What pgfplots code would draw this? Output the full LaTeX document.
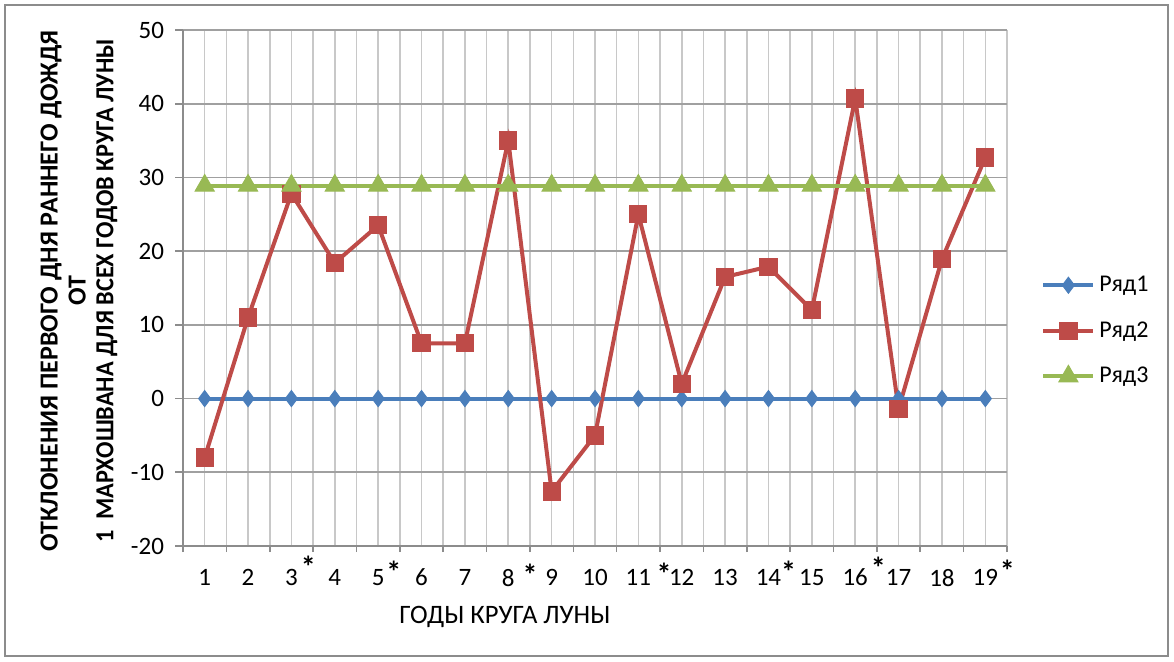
\documentclass[border=0pt]{standalone}
\usepackage{pgfplots}
\pgfplotsset{compat=1.18}
\usepackage{fontspec}
\setmainfont{Carlito}
\definecolor{sblue}{HTML}{4A7EBB}
\definecolor{sred}{HTML}{BE4B48}
\definecolor{sgreen}{HTML}{98B954}
\definecolor{gmaj}{HTML}{A0A0A0}
\definecolor{gmin}{HTML}{C8C8C8}
\definecolor{frame}{HTML}{8C8C8C}
\newcommand{\st}[2]{\rlap{\hspace{#1pt}\smash{\raisebox{#2pt}{\bfseries\fontsize{15}{15}\selectfont *}}}}
\begin{document}
\begin{tikzpicture}
\path[use as bounding box] (0,0) rectangle (587pt,330.5pt);
\draw[frame, line width=1pt] (2.5pt,2.5pt) rectangle (584pt,328pt);
\begin{axis}[
  at={(91.5pt,57.5pt)}, anchor=south west,
  scale only axis, width=412pt, height=258pt,
  xmin=0.5, xmax=19.5, ymin=-20, ymax=50,
  xtick={1,...,19},
  xticklabels={1,2,3\st{1.5}{4},4,5\st{1}{1.5},6,7,8\st{4}{0.5},9,10,11\st{2.8}{0.5},12,13,14\st{0}{1.5},15,16\st{1.5}{3.5},17,18,19\st{1}{2}},
  minor xtick={0.5,1.5,...,19.5},
  ytick={-20,-10,...,50},
  grid=both,
  major x grid style={gmin, line width=0.8pt},
  minor x grid style={gmin, line width=0.8pt},
  major y grid style={gmaj, line width=0.8pt},
  major x tick style={draw=none},
  minor x tick style={frame, line width=0.8pt},
  major y tick style={frame, line width=0.8pt},
  tick align=outside,
  major tick length=4pt, minor tick length=3pt,
  axis line style={frame, line width=0.8pt},
  axis x line*=bottom, axis y line*=left,
  tick label style={font=\fontsize{12.5}{14}\selectfont, black},
  /pgf/number format/assume math mode=true,
  xticklabel style={yshift=-4pt},
  yticklabel style={xshift=-2pt},
  legend style={at={(1.0,0.417)}, anchor=west, xshift=17pt, draw=none, fill=none,
    font=\fontsize{12}{14}\selectfont, row sep=9.5pt, inner sep=0pt},
  legend cell align=left,
  legend image code/.code={\draw[#1, mark repeat=2, mark phase=2] plot coordinates {(0pt,0pt) (12.5pt,0pt) (25pt,0pt)};},
  clip=false,
]
\addplot[sblue, line width=2pt, mark=diamond*, mark size=4pt, mark options={solid, fill=sblue, line width=0.5pt}]
 coordinates {(1,0)(2,0)(3,0)(4,0)(5,0)(6,0)(7,0)(8,0)(9,0)(10,0)(11,0)(12,0)(13,0)(14,0)(15,0)(16,0)(17,0)(18,0)(19,0)};
\addlegendentry{Ряд1}
\addplot[sred, line width=2pt, mark=square*, mark size=4.3pt, mark options={solid, fill=sred, line width=0.5pt}]
 coordinates {(1,-8)(2,11)(3,27.8)(4,18.4)(5,23.5)(6,7.5)(7,7.5)(8,35)(9,-12.6)(10,-5)(11,25)(12,2)(13,16.5)(14,17.9)(15,12)(16,40.7)(17,-1.4)(18,18.9)(19,32.7)};
\addlegendentry{Ряд2}
\addplot[sgreen, line width=2pt, mark=triangle*, mark size=5.5pt, mark options={solid, fill=sgreen, line width=0.5pt}]
 coordinates {(1,28.9)(2,28.9)(3,28.9)(4,28.9)(5,28.9)(6,28.9)(7,28.9)(8,28.9)(9,28.9)(10,28.9)(11,28.9)(12,28.9)(13,28.9)(14,28.9)(15,28.9)(16,28.9)(17,28.9)(18,28.9)(19,28.9)};
\addlegendentry{Ряд3}
\end{axis}
\node[rotate=90, align=center, font=\bfseries\fontsize{13}{13.9}\selectfont] at (39.5pt,185pt)
 {ОТКЛОНЕНИЯ ПЕРВОГО ДНЯ РАННЕГО ДОЖДЯ\\ОТ\\\scalebox{0.935}[1]{1\ \ МАРХОШВАНА ДЛЯ ВСЕХ ГОДОВ КРУГА ЛУНЫ}};
\node[font=\fontsize{13.3}{15}\selectfont] at (252.5pt,22pt) {ГОДЫ КРУГА ЛУНЫ};
\end{tikzpicture}
\end{document}
